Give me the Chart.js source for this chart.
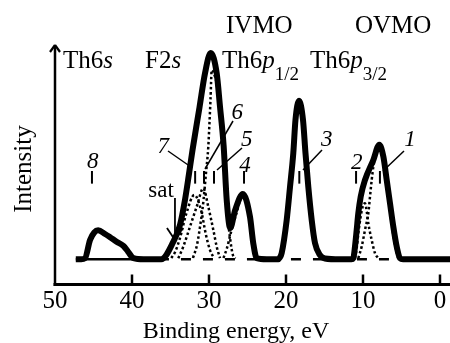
<!DOCTYPE html>
<html>
<head>
<meta charset="utf-8">
<script src="https://cdn.jsdelivr.net/npm/chart.js@4/dist/chart.umd.min.js"></script>
<style>
  html, body { margin: 0; padding: 0; background: #fff; }
  #wrap { width: 450px; height: 343px; position: relative; }
</style>
</head>
<body>
<div id="wrap"><canvas id="xpsChart"></canvas></div>
<script>
// measured spectrum: binding energy (eV) and intensity (arb. units)
const specEnergy = [47.3, 46.6, 46.1, 45.45, 44.9, 44.4, 43.5, 42.85, 42.0, 41.1, 40.5, 39.8, 38.5, 36.2,
  34.64, 33.77, 33.12, 32.62, 32.14, 31.23, 30.52, 29.78, 29.0, 28.57, 28.1, 27.7, 27.25, 26.6, 25.6, 24.68, 24.25, 23.8, 22.5,
  21.0, 20.84, 20.56, 19.91, 19.48, 19.05, 18.77, 18.31, 17.79, 17.47, 17.1, 16.66, 16.23, 15.58, 14.94, 13.0,
  11.5, 11.26, 11.04, 10.82, 10.61, 10.3, 9.74, 8.66, 7.88, 7.36, 6.92, 6.49, 6.06, 5.62, 5.19, 4.8, -1.3];
const specIntensity = [0, 0, 0.5, 9, 12.5, 13.5, 11.8, 10.3, 8.2, 6.2, 3.5, 0.5, 0, 0,
  8.1, 16, 27.7, 39.3, 51, 71, 86.8, 96.3, 86.8, 71.2, 53, 27.7, 14.6, 23, 30.5, 19.9, 7.5, 0.5, 0,
  0, 0.6, 2.9, 18.3, 33.7, 49.6, 65, 74, 65, 49.6, 33.7, 18.3, 7.5, 1.9, 0.4, 0,
  0, 0.5, 5.9, 13.6, 21.4, 29.2, 37.0, 46.3, 53.5, 48, 37, 26.1, 15.2, 5.9, 0.5, 0, 0];

// fitted components (dotted)
const comp1Energy = [10.61, 10.17, 9.74, 9.31, 9.09, 8.87, 8.66, 8.3, 7.9, 7.4, 7.0, 6.62, 6.23, 5.84, 5.45];
const comp1Intensity = [0.5, 5.9, 13.7, 21.4, 29.2, 37, 43, 49, 51, 47.7, 37, 26.3, 15.5, 6.7, 0.6];
const comp2Energy = [11.04, 10.82, 10.61, 10.3, 10.0, 9.74, 9.5, 9.31, 8.87, 8.44, 8.0];
const comp2Intensity = [0.5, 5, 12, 20, 25, 26.1, 22, 16.8, 9, 2.8, 0.5];
const comp4Energy = [28.12, 27.66, 27.14, 26.5, 25.6, 24.68, 24.29, 23.9, 23.5];
const comp4Intensity = [0.6, 5.3, 12.7, 20.7, 30.0, 19.3, 9, 2, 0.4];
const comp5Energy = [32.08, 31.56, 31.04, 30.7, 30.39, 30.1, 29.94, 29.8, 29.65, 29.3, 29.0, 28.57, 28.1, 27.7, 27.27, 26.9, 26.6];
const comp5Intensity = [0.6, 6.7, 18.3, 28, 40.3, 52, 63.5, 75, 88.3, 86, 82, 67, 49, 25, 10, 2, 0.3];
const comp6Energy = [33.99, 33.34, 32.47, 31.6, 30.74, 30.09, 29.44, 29.0, 28.57];
const comp6Intensity = [0.5, 5.9, 15.2, 24.5, 33.1, 24.5, 13.7, 5.9, 0.5];
const comp7Energy = [34.9, 34.4, 33.77, 33.0, 31.9, 31.04, 30.39, 29.87, 29.35];
const comp7Intensity = [0.6, 3.4, 9.9, 20.7, 30, 23, 11.3, 4.3, 0.6];

// baselines
const dashedBaseEnergy = [36.5, 4.5];
const solidBaseEnergy = [47.3, 39.5];

// axis
const xTickValues = [50, 40, 30, 20, 10, 0];
const peakNames = ["1", "2", "3", "4", "5", "6", "7", "8"];
const peakEnergy = [7.8, 10.9, 18.27, 25.45, 29.35, 30.65, 31.8, 45.2];

const toPoints = (xs, ys) => xs.map((x, i) => ({ x: x, y: ys[i] }));
const flat = xs => xs.map(x => ({ x: x, y: 0 }));

const serif = '"Liberation Serif", "Times New Roman", serif';

function dotted(points) {
  return {
    data: points,
    borderColor: '#000',
    borderWidth: 2.5,
    borderDash: [2.5, 2.5],
    pointRadius: 0,
    cubicInterpolationMode: 'monotone',
    fill: false
  };
}

function line(ctx, x1, y1, x2, y2, w) {
  ctx.beginPath();
  ctx.lineWidth = w;
  ctx.moveTo(x1, y1);
  ctx.lineTo(x2, y2);
  ctx.stroke();
}

function drawRuns(ctx, x, y, runs) {
  let cx = x;
  for (const r of runs) {
    ctx.font = (r.italic ? 'italic ' : '') + (r.size || 25) + 'px ' + serif;
    ctx.fillText(r.t, cx, y + (r.dy || 0));
    cx += ctx.measureText(r.t).width;
  }
}

const decorations = {
  id: 'decorations',
  afterDatasetsDraw(chart) {
    const ctx = chart.ctx;
    const xs = chart.scales.x, ys = chart.scales.y;
    const area = chart.chartArea;
    const px = v => xs.getPixelForValue(v);
    const py = v => ys.getPixelForValue(v);
    ctx.save();
    ctx.strokeStyle = '#000';
    ctx.fillStyle = '#000';
    ctx.lineCap = 'butt';

    // axes
    const x0 = area.left, y0 = area.bottom - 0.5;
    line(ctx, x0 - 1.5, y0, area.right, y0, 3);
    line(ctx, x0, y0 + 1.5, x0, area.top + 1, 2.5);
    line(ctx, x0, area.top, x0 - 5, area.top + 7, 2.2);
    line(ctx, x0, area.top, x0 + 5, area.top + 7, 2.2);

    // x ticks (inside) and labels
    ctx.textAlign = 'center';
    ctx.textBaseline = 'alphabetic';
    ctx.font = '25px ' + serif;
    for (const t of xTickValues) {
      const x = px(t);
      if (t !== 50) line(ctx, x, y0, x, y0 - 10, 2.5);
      ctx.fillText(String(t), x, 308);
    }
    ctx.font = '24px ' + serif;
    ctx.fillText('Binding energy, eV', 236, 338);

    ctx.save();
    ctx.translate(31, 169);
    ctx.rotate(-Math.PI / 2);
    ctx.font = '25px ' + serif;
    ctx.fillText('Intensity', 0, 0);
    ctx.restore();

    // header labels
    ctx.textAlign = 'left';
    drawRuns(ctx, 226, 33, [{ t: 'IVMO' }]);
    drawRuns(ctx, 355, 33, [{ t: 'OVMO' }]);
    drawRuns(ctx, 63, 68, [{ t: 'Th6' }, { t: 's', italic: true }]);
    drawRuns(ctx, 145, 68, [{ t: 'F2' }, { t: 's', italic: true }]);
    drawRuns(ctx, 222, 68, [{ t: 'Th6' }, { t: 'p', italic: true }, { t: '1/2', size: 19, dy: 12 }]);
    drawRuns(ctx, 310, 68, [{ t: 'Th6' }, { t: 'p', italic: true }, { t: '3/2', size: 19, dy: 12 }]);

    // component marks
    peakEnergy.forEach(e => {
      const x = px(e);
      line(ctx, x, py(35.3), x, py(41.2), 2);
    });

    // component numbers and leaders
    const labelPos = {
      '1': [410, 140], '2': [356.7, 163.3], '3': [326.7, 140], '4': [245, 166],
      '5': [246.7, 140], '6': [237.3, 112.7], '7': [163.3, 146.7], '8': [92.7, 161.7]
    };
    ctx.textAlign = 'center';
    ctx.textBaseline = 'middle';
    ctx.font = 'italic 23px ' + serif;
    peakNames.forEach(n => {
      const p = labelPos[n];
      ctx.fillText(n, p[0], p[1]);
    });
    line(ctx, 168, 151, 191, 167, 1.5);
    line(ctx, 233, 121, 205, 169, 1.5);
    line(ctx, 242, 148, 217, 170, 1.5);
    line(ctx, 322, 150, 303, 170, 1.5);
    line(ctx, 404, 151, 383, 171, 1.5);

    // satellite arrow
    ctx.font = '23px ' + serif;
    ctx.fillText('sat', 161, 191);
    const sx = px(34.42);
    line(ctx, sx, py(28.6), sx, py(9.0), 1.8);
    line(ctx, sx - 8, py(9.0) - 12, sx, py(9.0), 1.8);
    line(ctx, sx + 8, py(9.0) - 12, sx, py(9.0), 1.8);

    ctx.restore();
  }
};

new Chart(document.getElementById('xpsChart').getContext('2d'), {
  type: 'line',
  data: {
    datasets: [
      {
        data: toPoints(specEnergy, specIntensity),
        borderColor: '#000',
        borderWidth: 6,
        pointRadius: 0,
        cubicInterpolationMode: 'monotone',
        borderJoinStyle: 'round',
        fill: false
      },
      dotted(toPoints(comp1Energy, comp1Intensity)),
      dotted(toPoints(comp2Energy, comp2Intensity)),
      dotted(toPoints(comp4Energy, comp4Intensity)),
      dotted(toPoints(comp5Energy, comp5Intensity)),
      dotted(toPoints(comp6Energy, comp6Intensity)),
      dotted(toPoints(comp7Energy, comp7Intensity)),
      {
        data: flat(dashedBaseEnergy),
        borderColor: '#000',
        borderWidth: 2.5,
        borderDash: [10, 12],
        pointRadius: 0
      },
      {
        data: flat(solidBaseEnergy),
        borderColor: '#000',
        borderWidth: 2.5,
        pointRadius: 0
      }
    ]
  },
  options: {
    responsive: true,
    maintainAspectRatio: false,
    animation: false,
    layout: { padding: { left: 55, right: 0, top: 45, bottom: 58 } },
    plugins: { legend: { display: false }, tooltip: { enabled: false } },
    scales: {
      x: { type: 'linear', reverse: true, min: -1.3, max: 50, display: false },
      y: { type: 'linear', min: -12, max: 100, display: false }
    }
  },
  plugins: [decorations]
});
</script>
</body>
</html>
